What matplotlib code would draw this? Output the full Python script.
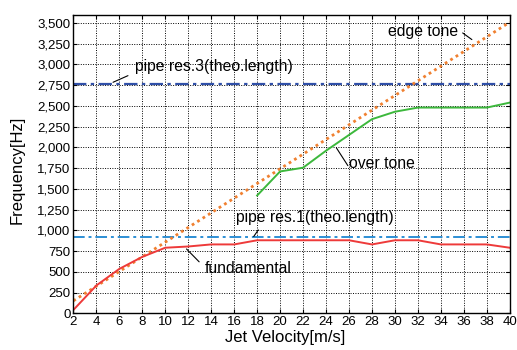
import matplotlib
matplotlib.use("Agg")
import matplotlib.pyplot as plt
from matplotlib.ticker import FuncFormatter

plt.rcParams['font.family'] = ['Liberation Sans', 'DejaVu Sans']

# Data
velocity = [2, 4, 6, 8, 10, 12, 14, 16, 18, 20, 22, 24, 26, 28, 30, 32, 34, 36, 38, 40]
fundamental = [40, 335, 535, 680, 790, 805, 830, 830, 880, 880, 880, 880, 880, 830,
               880, 880, 830, 830, 830, 790]

over_v = [18, 20, 22, 24, 26, 28, 30, 32, 34, 36, 38, 40]
over_tone = [1420, 1710, 1755, 1960, 2150, 2340, 2430, 2480, 2480, 2480, 2480, 2540]

edge_v = [2, 40]
edge_tone = [150, 3510]

pipe_res1 = 920
pipe_res3 = 2760

fig = plt.figure(figsize=(5.17, 3.5), dpi=100)
ax = fig.add_axes([0.142, 0.105, 0.844, 0.853])

ax.axhline(pipe_res3, color='#2f4fa8', linestyle=(0, (6, 2, 1.5, 2)), linewidth=1.6)
ax.axhline(pipe_res1, color='#2d8fd5', linestyle=(0, (6, 2, 1.5, 2)), linewidth=1.4)
ax.plot(edge_v, edge_tone, color='#f08030', linestyle=(0, (1, 1.3)), linewidth=2.0)
ax.plot(over_v, over_tone, color='#3cb83c', linewidth=1.4)
ax.plot(velocity, fundamental, color='#ee3a3a', linewidth=1.4)

ax.set_xlim(2, 40)
ax.set_ylim(0, 3600)
ax.set_xticks(range(2, 41, 2))
ax.set_yticks(range(0, 3501, 250))
ax.yaxis.set_major_formatter(FuncFormatter(lambda v, p: f"{int(v):,}"))
ax.grid(True, color='black', linestyle=(0, (1, 1.5)), linewidth=0.7)
ax.tick_params(direction='in', length=3, top=True, right=True, labelsize=9.5, pad=2)
for s in ax.spines.values():
    s.set_linewidth(1.0)

ax.set_xlabel('Jet Velocity[m/s]', fontsize=12)
ax.set_ylabel('Frequency[Hz]', fontsize=12)
ax.xaxis.set_label_coords(0.485, -0.055)
ax.yaxis.set_label_coords(-0.111, 0.48)

# Labels and leader lines
fs = 11.3
lk = dict(arrowstyle='-', color='black', lw=0.8, shrinkA=0, shrinkB=0)

ax.text(35.5, 3400, 'edge tone', fontsize=fs, ha='right', va='center')
ax.annotate('', xy=(36.7, 3300), xytext=(35.9, 3380), arrowprops=lk)

ax.text(7.4, 2975, 'pipe res.3(theo.length)', fontsize=fs, ha='left', va='center')
ax.annotate('', xy=(5.45, 2785), xytext=(6.75, 2865), arrowprops=lk)

ax.text(26.0, 1810, 'over tone', fontsize=fs, ha='left', va='center')
ax.annotate('', xy=(24.9, 1995), xytext=(25.9, 1780), arrowprops=lk)

ax.text(16.2, 1160, 'pipe res.1(theo.length)', fontsize=fs, ha='left', va='center')
ax.annotate('', xy=(17.7, 925), xytext=(18.1, 1005), arrowprops=lk)

ax.text(13.45, 535, 'fundamental', fontsize=fs, ha='left', va='center')
ax.annotate('', xy=(11.85, 775), xytext=(12.95, 620), arrowprops=lk)

fig.savefig('out.png', dpi=100)
